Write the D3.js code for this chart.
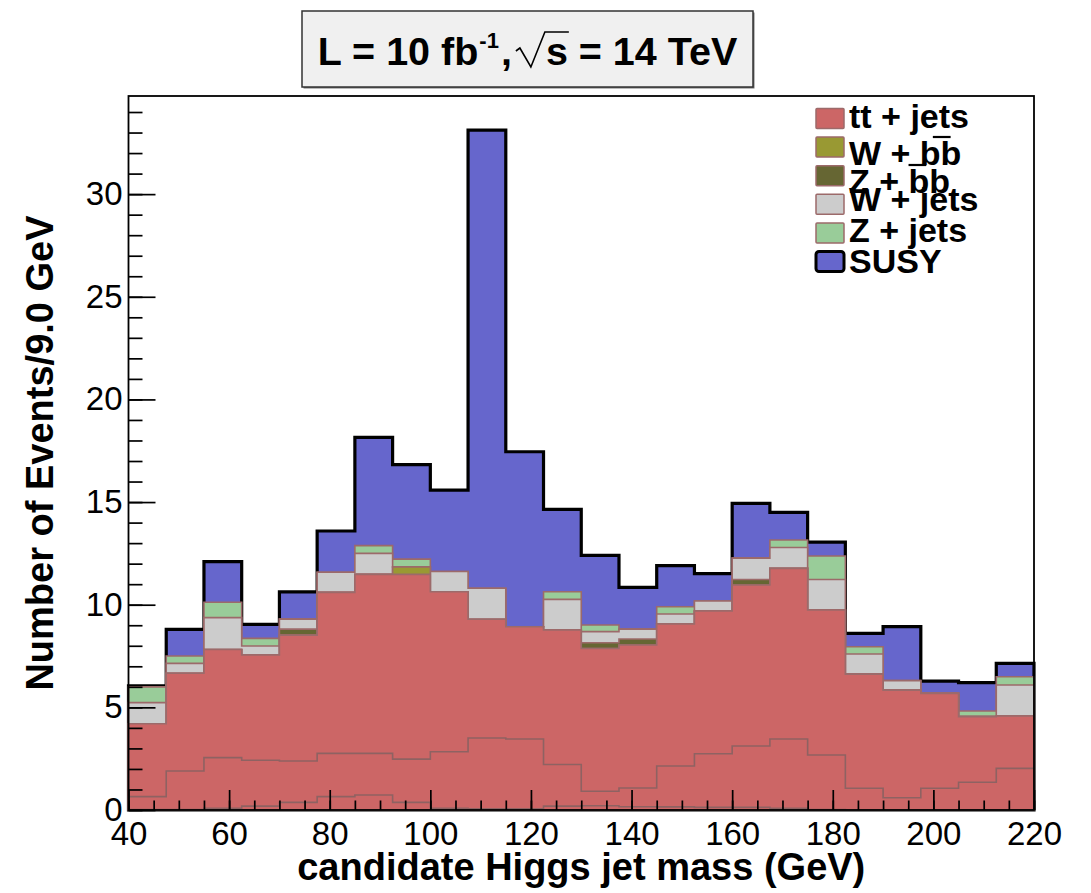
<!DOCTYPE html>
<html>
<head>
<meta charset="utf-8">
<script src="https://cdn.jsdelivr.net/npm/d3@7"></script>
<style>
  html, body { margin: 0; padding: 0; background: #fff; }
  svg { display: block; font-family: "Liberation Sans", Arial, Helvetica, sans-serif; }
</style>
</head>
<body>
<script>
// Bin edges of the candidate Higgs jet mass histogram (GeV)
const binEdges = [40, 47.5, 55, 62.5, 70, 77.5, 85, 92.5, 100, 107.5, 115, 122.5,
                  130, 137.5, 145, 152.5, 160, 167.5, 175, 182.5, 190, 197.5, 205, 212.5, 220];

// Events per bin for each process (stacked bottom to top)
const ttJets = [4.20, 6.66, 7.82, 7.55, 8.52, 10.60, 11.48, 11.48, 10.63, 9.29, 8.93, 8.77,
                7.87, 8.04, 9.06, 9.69, 10.96, 11.77, 9.74, 6.62, 5.84, 5.68, 4.55, 4.58];
const wBB    = [0, 0, 0, 0, 0, 0, 0, 0.36, 0, 0, 0, 0,
                0, 0, 0, 0, 0, 0, 0, 0, 0, 0, 0, 0];
const zBB    = [0, 0, 0, 0, 0.29, 0, 0, 0, 0, 0, 0, 0,
                0.28, 0.29, 0, 0, 0.27, 0, 0, 0, 0, 0, 0, 0];
const wJets  = [1.03, 0.48, 1.55, 0.44, 0.49, 0.98, 1.02, 0, 0.99, 1.51, 0, 1.49,
                0.54, 0.48, 0.49, 0.49, 1.04, 1.02, 1.49, 0.98, 0.46, 0, 0, 1.51];
const zJets  = [0.77, 0.36, 0.75, 0.37, 0, 0, 0.38, 0.38, 0, 0, 0, 0.37,
                0.32, 0, 0.35, 0, 0, 0.36, 1.14, 0.35, 0, 0, 0.27, 0.40];
const susy   = [0.05, 1.30, 1.98, 0.68, 1.33, 2.01, 5.27, 4.60, 3.96, 22.32, 8.52, 4.01,
                3.39, 2.03, 2.00, 1.33, 2.67, 1.35, 0.68, 0.65, 2.63, 0.60, 1.38, 0.65];

// Unfilled sub-sample outlines drawn inside the tt + jets fill
const ttSubHigh = [0.65, 1.90, 2.55, 2.42, 2.39, 2.76, 2.76, 2.48, 2.84, 3.51, 3.46, 2.22,
                   0.91, 1.07, 2.14, 2.74, 3.12, 3.46, 2.68, 1.06, 0.60, 1.06, 1.35, 2.03];
const ttSubLow  = [0.02, 0.02, 0.08, 0.19, 0.37, 0.65, 0.73, 0.37, 0.08, 0.06, 0.06, 0.19,
                   0.21, 0.16, 0.15, 0.13, 0.13, 0.08, 0.02, 0, 0, 0, 0, 0];

const seriesKeys   = ["tt", "wbb", "zbb", "wjets", "zjets", "susy"];
const seriesLabels = ["tt + jets", "W + bb", "Z + bb", "W + jets", "Z + jets", "SUSY"];
const seriesValues = [ttJets, wBB, zBB, wJets, zJets, susy];
const seriesFills  = ["#cc6666", "#999933", "#666633", "#cccccc", "#99cc99", "#6666cc"];

const xTicksMajor = [40, 60, 80, 100, 120, 140, 160, 180, 200, 220];
const yTicksMajor = [0, 5, 10, 15, 20, 25, 30];

const W = 1091, H = 893;
const frame = { left: 128.5, right: 1034, top: 96, bottom: 810 };
const bgStroke = "#9c6a6a";

const svg = d3.select("body").append("svg").attr("width", W).attr("height", H);

const x = d3.scaleLinear().domain([40, 220]).range([frame.left, frame.right]);
const y = d3.scaleLinear().domain([0, 34.78]).range([frame.bottom, frame.top]);

// rows for d3.stack
const rows = binEdges.slice(0, -1).map((lo, i) => {
  const r = { lo: lo, hi: binEdges[i + 1] };
  seriesKeys.forEach((k, j) => { r[k] = seriesValues[j][i]; });
  return r;
});
const stacked = d3.stack().keys(seriesKeys)(rows);

function stepPts(vals) {
  const pts = [];
  vals.forEach((v, i) => { pts.push([binEdges[i], v]); pts.push([binEdges[i + 1], v]); });
  return pts;
}
const area = d3.area().x(d => x(d[0])).y0(y(0)).y1(d => y(d[1]));
const line = d3.line().x(d => x(d[0])).y(d => y(d[1]));

// Draw cumulative histograms from the top of the stack downwards
const histG = svg.append("g");
for (let j = stacked.length - 1; j >= 0; j--) {
  const cum = stacked[j].map(d => d[1]);
  const isSig = seriesKeys[j] === "susy";
  histG.append("path")
    .attr("d", area(stepPts(cum)))
    .attr("fill", seriesFills[j])
    .attr("stroke", isSig ? "#000" : bgStroke)
    .attr("stroke-width", isSig ? 3.2 : 1.6)
    .attr("stroke-linejoin", "miter");
}

// sub-sample outlines
[ttSubHigh, ttSubLow].forEach(vals => {
  const pts = [[binEdges[0], 0]].concat(stepPts(vals), [[binEdges[binEdges.length - 1], 0]]);
  histG.append("path")
    .attr("d", line(pts))
    .attr("fill", "none")
    .attr("stroke", "#8e6262")
    .attr("stroke-width", 1.6);
});

// Axes
const axG = svg.append("g");

const yMinor = d3.axisLeft(y).tickValues(d3.range(0, 35, 1)).tickSize(-14).tickFormat("");
const yMajor = d3.axisLeft(y).tickValues(yTicksMajor).tickSize(-27).tickPadding(6).tickFormat(d3.format("d"));
const xMinor = d3.axisBottom(x).tickValues(d3.range(40, 221, 5)).tickSize(-9.5).tickFormat("");
const xMajor = d3.axisBottom(x).tickValues(xTicksMajor).tickSize(-20).tickPadding(12).tickFormat(d3.format("d"));

function styleAxis(g) {
  g.select(".domain").remove();
  g.selectAll(".tick line").attr("stroke", "#000").attr("stroke-width", 1.7);
  g.selectAll(".tick text").attr("font-size", 33).attr("fill", "#000")
    .attr("font-family", "'Liberation Sans', Arial, sans-serif");
}
axG.append("g").attr("transform", `translate(${frame.left},0)`).call(yMinor).call(styleAxis);
axG.append("g").attr("transform", `translate(${frame.left},0)`).call(yMajor).call(styleAxis);
axG.append("g").attr("transform", `translate(0,${frame.bottom})`).call(xMinor).call(styleAxis);
axG.append("g").attr("transform", `translate(0,${frame.bottom})`).call(xMajor).call(styleAxis);

// frame
svg.append("rect")
  .attr("x", frame.left).attr("y", frame.top)
  .attr("width", frame.right - frame.left).attr("height", frame.bottom - frame.top)
  .attr("fill", "none").attr("stroke", "#000").attr("stroke-width", 1.8);

// Axis titles
svg.append("text")
  .attr("x", (frame.left + frame.right) / 2).attr("y", 880)
  .attr("text-anchor", "middle").attr("font-size", 38).attr("font-weight", "bold")
  .text("candidate Higgs jet mass (GeV)");
svg.append("text")
  .attr("transform", `translate(53,${(frame.top + frame.bottom) / 2}) rotate(-90)`)
  .attr("text-anchor", "middle").attr("font-size", 38).attr("font-weight", "bold")
  .text("Number of Events/9.0 GeV");

// Title box
const box = { x: 302, y: 11, w: 451, h: 76 };
svg.append("rect")
  .attr("x", box.x + 1.5).attr("y", box.y + 1.5).attr("width", box.w).attr("height", box.h)
  .attr("fill", "#777");
svg.append("rect")
  .attr("x", box.x).attr("y", box.y).attr("width", box.w).attr("height", box.h)
  .attr("fill", "#f0f0f0").attr("stroke", "#333").attr("stroke-width", 1.5);

const tg = svg.append("g");
let cx = 0;
function part(str, size, dy) {
  const t = tg.append("text").attr("x", cx).attr("y", dy)
    .attr("font-size", size).attr("font-weight", "bold").text(str);
  const w = t.node().getComputedTextLength();
  cx += w;
  return w;
}
part("L = 10 fb", 39.5, 0);
cx += 1;
part("-1", 22, -17);
cx += 2;
part(",", 39.5, 0);
cx += 4;
const rx0 = cx;
cx += 30;
part("s", 39.5, 0);
const sEnd = cx;
tg.append("path")
  .attr("d", `M${rx0},${-14} L${rx0 + 4},${-17} L${rx0 + 15},${2} L${rx0 + 29},${-33} L${sEnd + 1},${-33}`)
  .attr("fill", "none").attr("stroke", "#000").attr("stroke-width", 1.6);
part("\u00a0= 14 TeV", 39.5, 0);
const titleW = cx;
tg.attr("transform", `translate(${box.x + box.w / 2 - titleW / 2},65)`);

// Legend
const legG = svg.append("g");
const legBaselines = [128, 165, 193, 211, 242, 273];
seriesLabels.forEach((lab, i) => {
  const isSig = seriesKeys[i] === "susy";
  const top = 108.5 + i * 28.6;
  legG.append("rect")
    .attr("x", 816).attr("y", top).attr("width", 28).attr("height", 20)
    .attr("rx", isSig ? 3 : 1)
    .attr("fill", seriesFills[i])
    .attr("stroke", isSig ? "#000" : bgStroke)
    .attr("stroke-width", isSig ? 3 : 1.5);
  const t = legG.append("text")
    .attr("x", 849).attr("y", legBaselines[i])
    .attr("font-size", 34).attr("font-weight", "bold").text(lab);
  if (lab.indexOf("bb") >= 0) {
    const n = t.node();
    const pre = n.getSubStringLength(0, lab.indexOf("bb"));
    const bw = n.getSubStringLength(lab.indexOf("bb"), 1);
    const shift = lab[0] === "W" ? 13 : 0;
    legG.append("line")
      .attr("x1", 849 + pre + shift).attr("x2", 849 + pre + shift + bw - 3)
      .attr("y1", legBaselines[i] - 28).attr("y2", legBaselines[i] - 28)
      .attr("stroke", "#000").attr("stroke-width", 2.2);
  }
});
</script>
</body>
</html>
